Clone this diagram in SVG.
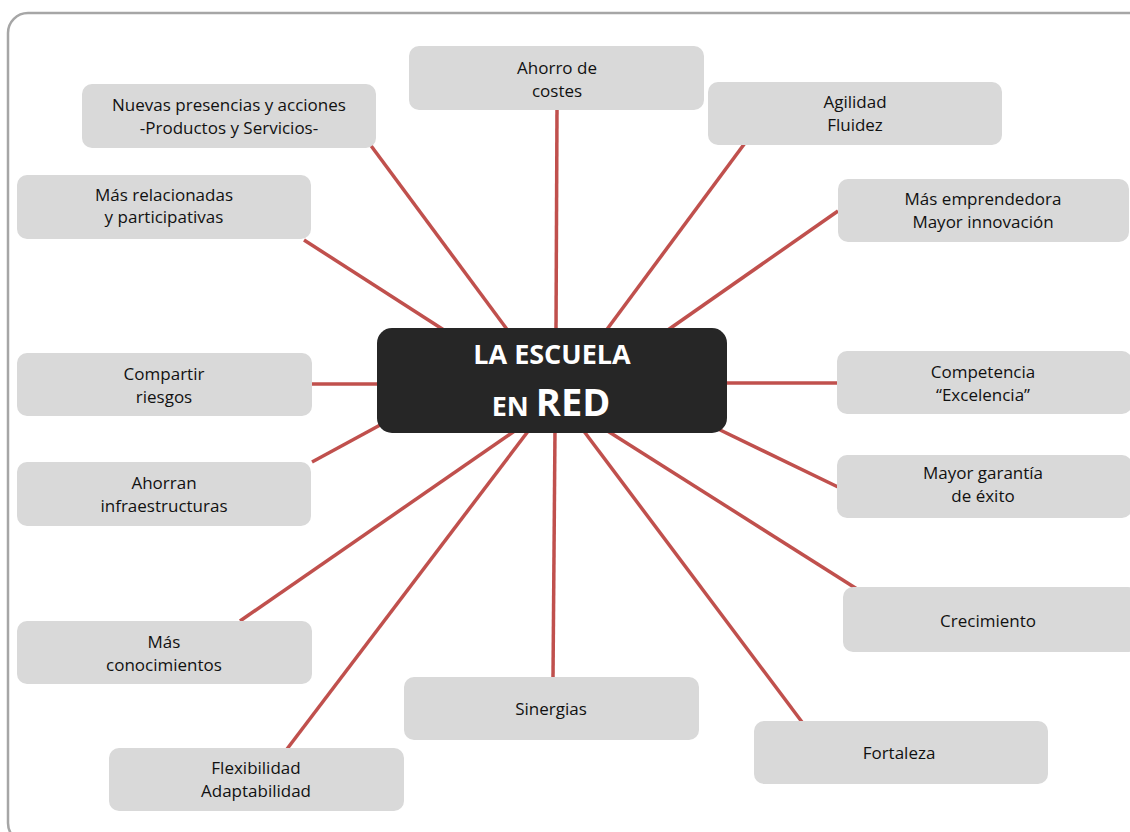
<svg xmlns="http://www.w3.org/2000/svg" width="1130" height="832" viewBox="0 0 1130 832">
  <style>
    .frame { fill: #ffffff; stroke: #a6a6a6; stroke-width: 2.5; }
    .box { fill: #d9d9d9; }
    .hub { fill: #262626; }
    .lbl { font-family: "Open Sans", "Noto Sans", "Liberation Sans", sans-serif; font-size: 17px; fill: #111111; text-anchor: middle; }
    .hubtxt { font-family: "Open Sans", "Noto Sans", "Liberation Sans", sans-serif; font-weight: bold; fill: #ffffff; text-anchor: middle; }
    .link { stroke: #c0504d; stroke-width: 3.5; fill: none; }
  </style>

  <rect width="1130" height="832" fill="#ffffff"/>
  <!-- outer frame, runs off the right and bottom edges -->
  <rect class="frame" x="8" y="13" width="1140" height="830" rx="20"/>

  <!-- spokes from the hub to each idea -->
  <g id="connectors">
    <line class="link" x1="369" y1="143" x2="509" y2="332"/>
    <line class="link" x1="557" y1="108" x2="556" y2="332"/>
    <line class="link" x1="745" y1="143" x2="605" y2="332"/>
    <line class="link" x1="838" y1="211" x2="665" y2="332"/>
    <line class="link" x1="304" y1="240" x2="447" y2="332"/>
    <line class="link" x1="310" y1="384" x2="382" y2="384"/>
    <line class="link" x1="722" y1="383" x2="839" y2="383"/>
    <line class="link" x1="312" y1="462" x2="382" y2="424"/>
    <line class="link" x1="716" y1="428" x2="838" y2="487"/>
    <line class="link" x1="606" y1="430" x2="857" y2="589"/>
    <line class="link" x1="240" y1="621" x2="516" y2="430"/>
    <line class="link" x1="287" y1="749" x2="529" y2="430"/>
    <line class="link" x1="553" y1="678" x2="555" y2="430"/>
    <line class="link" x1="808" y1="730" x2="583" y2="430"/>
  </g>

  <g id="hub">
    <rect class="hub" x="377" y="328" width="350" height="105" rx="15"/>
    <text class="hubtxt" x="552" y="364" font-size="27">LA ESCUELA</text>
    <text class="hubtxt" x="551" y="416"><tspan font-size="27">EN </tspan><tspan font-size="38">RED</tspan></text>
  </g>

  <g id="n-nuevas">
    <rect class="box" x="82" y="84" width="294" height="64" rx="10"/>
    <text class="lbl" x="229" y="111">Nuevas presencias y acciones</text>
    <text class="lbl" x="229" y="134">-Productos y Servicios-</text>
  </g>
  <g id="n-ahorro">
    <rect class="box" x="409" y="46" width="295" height="64" rx="10"/>
    <text class="lbl" x="557" y="74">Ahorro de</text>
    <text class="lbl" x="557" y="97">costes</text>
  </g>
  <g id="n-agilidad">
    <rect class="box" x="708" y="82" width="294" height="63" rx="10"/>
    <text class="lbl" x="855" y="108">Agilidad</text>
    <text class="lbl" x="855" y="131">Fluidez</text>
  </g>
  <g id="n-emprendedora">
    <rect class="box" x="838" y="179" width="291" height="63" rx="10"/>
    <text class="lbl" x="983" y="205">Más emprendedora</text>
    <text class="lbl" x="983" y="228">Mayor innovación</text>
  </g>
  <g id="n-relacionadas">
    <rect class="box" x="17" y="175" width="294" height="64" rx="10"/>
    <text class="lbl" x="164" y="201">Más relacionadas</text>
    <text class="lbl" x="164" y="223">y participativas</text>
  </g>
  <g id="n-compartir">
    <rect class="box" x="17" y="353" width="295" height="63" rx="10"/>
    <text class="lbl" x="164" y="380">Compartir</text>
    <text class="lbl" x="164" y="403">riesgos</text>
  </g>
  <g id="n-competencia">
    <rect class="box" x="837" y="351" width="295" height="63" rx="10"/>
    <text class="lbl" x="983" y="378">Competencia</text>
    <text class="lbl" x="983" y="401">“Excelencia”</text>
  </g>
  <g id="n-ahorran">
    <rect class="box" x="17" y="462" width="294" height="64" rx="10"/>
    <text class="lbl" x="164" y="489">Ahorran</text>
    <text class="lbl" x="164" y="512">infraestructuras</text>
  </g>
  <g id="n-garantia">
    <rect class="box" x="837" y="455" width="295" height="63" rx="10"/>
    <text class="lbl" x="983" y="479">Mayor garantía</text>
    <text class="lbl" x="983" y="502">de éxito</text>
  </g>
  <g id="n-crecimiento">
    <rect class="box" x="843" y="587" width="295" height="65" rx="10"/>
    <text class="lbl" x="988" y="627">Crecimiento</text>
  </g>
  <g id="n-conocimientos">
    <rect class="box" x="17" y="621" width="295" height="63" rx="10"/>
    <text class="lbl" x="164" y="648">Más</text>
    <text class="lbl" x="164" y="671">conocimientos</text>
  </g>
  <g id="n-flexibilidad">
    <rect class="box" x="109" y="748" width="295" height="63" rx="10"/>
    <text class="lbl" x="256" y="774">Flexibilidad</text>
    <text class="lbl" x="256" y="797">Adaptabilidad</text>
  </g>
  <g id="n-sinergias">
    <rect class="box" x="404" y="677" width="295" height="63" rx="10"/>
    <text class="lbl" x="551" y="715">Sinergias</text>
  </g>
  <g id="n-fortaleza">
    <rect class="box" x="754" y="721" width="294" height="63" rx="10"/>
    <text class="lbl" x="899" y="759">Fortaleza</text>
  </g>
</svg>
